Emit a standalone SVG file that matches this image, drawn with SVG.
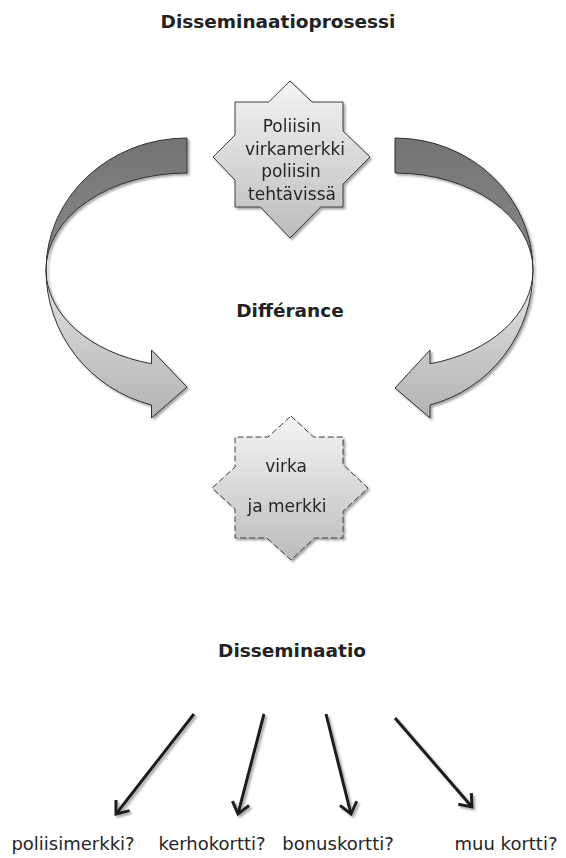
<svg xmlns="http://www.w3.org/2000/svg" width="566" height="858" viewBox="0 0 566 858">
  <defs>
    <style>
      .bold { font-family: "DejaVu Sans", Verdana, sans-serif; font-weight: bold; font-size: 18.5px; fill: #222; text-anchor: middle; }
      .reg { font-family: "DejaVu Sans", Verdana, sans-serif; font-size: 17px; fill: #262626; text-anchor: middle; }
      .leaf { font-family: "DejaVu Sans", Verdana, sans-serif; font-size: 18px; fill: #262626; text-anchor: middle; }
      .star { fill: url(#starFill); stroke: #3c3c3c; stroke-width: 1; stroke-linejoin: miter; }
      .dashed { stroke-dasharray: 6 3; }
      .back { fill: url(#backFill); stroke: #2e2e2e; stroke-width: 1; }
      .front { fill: url(#frontFill); stroke: #2e2e2e; stroke-width: 1; stroke-linejoin: miter; }
      .branch { fill: none; stroke: #1a1a1a; stroke-width: 3; marker-end: url(#chevron); }
    </style>
    <linearGradient id="starFill" x1="0" y1="0" x2="0" y2="1">
      <stop offset="0" stop-color="#f4f4f4"/>
      <stop offset="1" stop-color="#bcbcbc"/>
    </linearGradient>
    <linearGradient id="backFill" x1="0" y1="0" x2="0" y2="1">
      <stop offset="0" stop-color="#747474"/>
      <stop offset="1" stop-color="#888888"/>
    </linearGradient>
    <linearGradient id="frontFill" x1="0" y1="0" x2="0" y2="1">
      <stop offset="0" stop-color="#e4e4e4"/>
      <stop offset="1" stop-color="#b2b2b2"/>
    </linearGradient>
    <filter id="shadow" x="-10%" y="-10%" width="130%" height="130%">
      <feGaussianBlur in="SourceAlpha" stdDeviation="0.8" result="b"/>
      <feOffset in="b" dx="1.5" dy="1.5" result="o"/>
      <feFlood flood-color="#808080" flood-opacity="0.7"/>
      <feComposite in2="o" operator="in" result="s"/>
      <feMerge>
        <feMergeNode in="s"/>
        <feMergeNode in="SourceGraphic"/>
      </feMerge>
    </filter>
    <marker id="chevron" markerUnits="userSpaceOnUse" viewBox="-16 -12 20 24" refX="0" refY="0" markerWidth="20" markerHeight="24" orient="auto">
      <path d="M-11,-8.6 L0,0 L-11,8.6" fill="none" stroke="#1a1a1a" stroke-width="3"/>
    </marker>
  </defs>

  <rect width="566" height="858" fill="#ffffff"/>

  <!-- headings -->
  <g id="title">
    <text class="bold" x="278" y="28">Disseminaatioprosessi</text>
  </g>
  <g id="label-differance">
    <text class="bold" x="290" y="317">Différance</text>
  </g>
  <g id="label-disseminaatio">
    <text class="bold" x="292" y="657">Disseminaatio</text>
  </g>

  <!-- eight-pointed star: the badge -->
  <g id="star-top" filter="url(#shadow)">
    <polygon class="star" points="290,81 312,102 343,102 343,131 370,157 343,184 343,207 320.6,207 290,238 260.5,207 235,207 235,180 213,157 235,135 235,102 268.7,102"/>
    <text class="reg" x="292" y="132">Poliisin</text>
    <text class="reg" x="295" y="154.5">virkamerkki</text>
    <text class="reg" x="291" y="177">poliisin</text>
    <text class="reg" x="292" y="199.5">tehtävissä</text>
  </g>

  <!-- eight-pointed star with dashed outline -->
  <g id="star-bottom" filter="url(#shadow)">
    <polygon class="star dashed" points="291,416 313.5,437 343,437 343,464.6 368,488 343,511.4 343,538 314.5,538 291,560 266.9,538 235,538 235,509 212,488 235,467 235,437 268,437"/>
    <text class="reg" x="286" y="472">virka</text>
    <text class="reg" x="287" y="512">ja merkki</text>
  </g>

  <g id="connectors">
    <!-- curved block arrow on the left -->
    <g id="arrow-left" filter="url(#shadow)">
      <path class="back" d="M187,138 A141,132 0 0 0 46,270 A141,97 0 0 1 187,173 Z"/>
      <path class="front" d="M46,270 A141,97 0 0 0 151.5,363.7 L151.5,350 L187,387 L151.5,418 L151.5,405 A141,139.6 0 0 1 46,270 Z"/>
    </g>
    <!-- curved block arrow on the right -->
    <g id="arrow-right" filter="url(#shadow)">
      <path class="back" d="M395,138 A138,132 0 0 1 533,270 A138,97 0 0 0 395,173 Z"/>
      <path class="front" d="M533,270 A138,97 0 0 1 430,363.8 L430,350 L395,388 L430,418 L430,405 A138,139.6 0 0 0 533,270 Z"/>
    </g>
    <!-- branching arrows -->
    <g id="branches" filter="url(#shadow)">
      <line class="branch" x1="194" y1="714" x2="116" y2="814"/>
      <line class="branch" x1="264" y1="714" x2="238" y2="814"/>
      <line class="branch" x1="326" y1="714" x2="351" y2="814"/>
      <line class="branch" x1="395" y1="718" x2="472" y2="807"/>
    </g>
  </g>

  <!-- outcomes -->
  <g id="leaf-poliisimerkki"><text class="leaf" x="73" y="850">poliisimerkki?</text></g>
  <g id="leaf-kerhokortti"><text class="leaf" x="212" y="850">kerhokortti?</text></g>
  <g id="leaf-bonuskortti"><text class="leaf" x="338" y="850">bonuskortti?</text></g>
  <g id="leaf-muu"><text class="leaf" x="506" y="850">muu kortti?</text></g>
</svg>
